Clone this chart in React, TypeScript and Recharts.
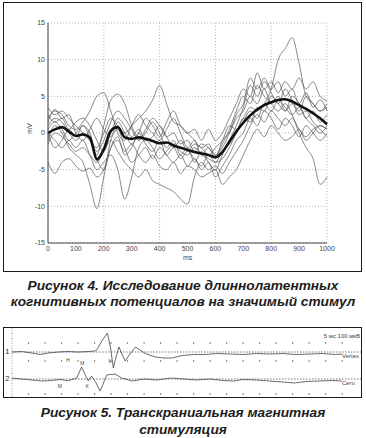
import { LineChart, ComposedChart, Line, XAxis, YAxis, CartesianGrid, ReferenceLine, ReferenceDot } from 'recharts';

const FONT = '"Liberation Sans", Arial, sans-serif';

// ---- Рисунок 4: ERP traces, ms / mV ----
const TIMES = [
    0, 25, 50, 75, 100, 125, 150, 175, 200, 225,
    250, 275, 300, 325, 350, 375, 400, 425, 450, 475,
    500, 525, 550, 575, 600, 625, 650, 675, 700, 725,
    750, 775, 800, 825, 850, 875, 900, 925, 950, 975,
    1000,
];
const X_TICKS = [0, 100, 200, 300, 400, 500, 600, 700, 800, 900, 1000];
const Y_TICKS = [-15, -10, -5, 0, 5, 10, 15];

const TRACE_1 = [2, 3, 2.5, 1, 0.5, 1.5, 3, 5, 5.5, 3, 0, -1, 1, 2.5, 1, 0, -1, 0.5, 2, 0, -2, -1, -3, -2, -3.5, -1, 0, 2, 3, 5, 4, 6, 4, 5, 3, 5, 4, 2, 3, 1.5, 2.5];
const TRACE_2 = [1, 2, 1.5, 0, -1, 0, -1, -3, 1, 4.5, 5.3, 4, 1, -1, 0, 1.5, 0, -2, -1, -3, -2, -4, -2.5, -4, -5, -3, -1, 1, 3.5, 6.5, 5, 7, 5.5, 4, 6, 4.5, 3, 5, 4, 3, 4];
const TRACE_3 = [-1, 1, 0, -2, -3, -4, -7, -10.3, -6, -1, 0.5, -2, -4, -3, -2, -3.5, -2, -3, -4, -3, -4.5, -3.5, -5, -4, -6, -4.5, -3, -1, 0, 2, 1, 3, 2, 0.5, 2, 1, -0.5, 1, 0, -1, 0];
const TRACE_4 = [3.5, 2.5, 3, 2, 1, 0, -1, -2, 0, 2, 1, 0, 1, 2, 3, 4.5, 6.5, 4, 1.5, 1, 0, -1, -2, -1.5, -3, -2, 0, 2.5, 4, 7.5, 6, 7.5, 6, 7, 5, 6, 4, 5.5, 3.5, 4.5, 3];
const TRACE_5 = [0, -1, -2, -1, -2, -1, -3, -5, -4, -3, -5, -9, -6, -2, -1, -2, -3.5, -2.5, -1.5, -2.5, -3, -2, -3, -3.5, -4, -2.5, -1.5, 0, 1.5, 3, 2, 4, 3, 4.5, 3.5, 2.5, 3.5, 2, 1, 0, 1];
const TRACE_6 = [-1.5, 0, -0.5, -1.5, -2.5, -2, -3, -4, -2.5, -1, -2.5, -4, -5, -6, -5, -6.5, -7, -7.5, -8, -9, -9.7, -6, -4, -5, -4.5, -5.5, -4, -2.5, -1, 1, 2.5, 1.5, 3, 2, 1, 2, 0.5, -0.5, 0.5, 1, 0.5];
const TRACE_7 = [-4, -5.5, -4, -3.5, -4.5, -5.2, -4.8, -6, -5, -2, -1, -2.5, -1.5, -3, -4, -3, -4.5, -5, -4, -5.5, -4.5, -5, -6, -5.5, -5, -7, -6, -5, -3, -1, 0.5, -0.5, 1, 0, -1, -0.5, 0.5, -1, 0, 1, 0.5];
const TRACE_8 = [2.5, 1.5, 2, 0.5, 1.5, 2, 1, -1, -2.5, 0, 2, 1, -0.5, 0.5, -1, -0.5, 1, -0.5, -2, -1, -2.5, -1.5, -2, -3, -2, -1, 1, 0.5, 2, 3.5, 3, 4, 6, 10, 11.5, 13, 9.5, 5, 4, 3, 3.5];
const TRACE_9 = [0.5, 1.5, 0.5, -1, 0, 1, -0.5, -2.5, -1, 1.5, 3, 2, 0.5, -1, 0.5, 2, 1, -0.5, 0, -1.5, -1, -2.5, -1.5, -2, -3, -1.5, 0.5, 3, 5, 4, 6.5, 5, 4, 3, 4, 2.5, 0, -2, -3.5, -7, -6];
const TRACE_10 = [1.5, 3.2, 2, 2.5, 0, -1, 0.5, 2, 0.5, -0.5, 1.5, 0, -1.5, 0, 2, 1, -0.5, 1.5, 3, 1, 0, 0.5, -1, 0.5, -1, 0, 2, 4, 6, 5, 8.2, 6, 7, 5.5, 7, 6, 7.5, 6, 7, 5, 4.4];
const TRACE_11 = [0, -2, -1, 0.5, -0.5, 1, 0, -3.5, -5, -2, -0.5, -3, -2, 0, -1.5, -2.5, -1, -3, -2, -3.5, -2.5, -3.5, -4.5, -3, -4, -3.5, -2, 0, 2, 1.5, 3.5, 3, 5, 4, 3, 4, 2.5, 3, 1.5, 0.5, -0.5];
const AVERAGE = [0, 0.5, 0.8, 0.2, -0.4, -0.2, -0.6, -3.6, -2.2, 0.3, 0.8, -0.6, -0.8, -0.6, -0.8, -1.1, -1.4, -1.3, -1.7, -2.0, -2.3, -2.6, -2.8, -3.0, -3.3, -2.6, -1.2, 0.2, 1.4, 2.4, 3.2, 3.8, 4.2, 4.5, 4.6, 4.3, 3.8, 3.3, 2.7, 2.0, 1.2];

const TRACES = [TRACE_1, TRACE_2, TRACE_3, TRACE_4, TRACE_5, TRACE_6, TRACE_7, TRACE_8, TRACE_9, TRACE_10, TRACE_11];

const erpRows = TIMES.map((t, i) => {
    const row: Record<string, number> = { t, avg: AVERAGE[i] };
    TRACES.forEach((tr, k) => { row[`s${k}`] = tr[i]; });
    return row;
});

// ---- Рисунок 5: motor evoked responses, ms / amplitude ----
const MS_TICKS = [5, 10, 15, 20, 25, 30, 35, 40, 45, 50, 55, 60, 65, 70, 75, 80, 85, 90, 95, 100, 105];
const DOT_TIMES = [5, 10, 15, 20, 25, 30, 35, 40, 45, 50, 55, 60, 65, 70, 75, 80, 85, 90, 95, 100];
const DOT_ROWS = [9, -9, -42];
const CHANNEL_OFFSETS = [0, -27];

const VERTEX_T = [0, 3, 6, 8.5, 11, 14, 17, 20, 23, 25, 25.7, 27, 28.9, 29.8, 30.7, 31.5, 32.4, 33.3, 34.3, 35.5, 37.4, 40.4, 43.4, 46, 48.5, 51.5, 55, 58.5, 62, 66, 70, 74, 78, 82, 86, 90, 94, 98, 100];
const VERTEX_A = [0, 0.5, -1, -2.5, -1, 0, 0.5, 0, 0.5, 1, 2, 10, 19, 5, -16, -5, 5, -2, -9, -3, 5, -1.5, -5, -6, -6, -3.5, -2.5, -2.5, -1.5, -2, -2.5, -1.5, -2, -1.5, -2.5, -2, -1.5, -2.5, -2];
const CERV_T = [0, 3, 6, 9, 12, 14.5, 17, 19.6, 21.1, 22.2, 23.1, 24.1, 25.3, 26.7, 27.7, 28.7, 31.2, 33.2, 36.4, 40, 44, 48, 52, 56, 60, 64, 67, 70, 74, 78, 82, 85.5, 89, 93, 97, 100];
const CERV_A = [1, 0, -1, -2, -1.5, -0.5, -1.7, 1, 12, 4, -2, 3, -3, -12, -4, 4, 5, 1, -2, 0, -1, 1, 0, -1, 0, -1.5, -2, -0.5, -1, -2, -3, -4, -2.5, -2, -1.5, -2];

const vertexRows = VERTEX_T.map((t, i) => ({ t, v: VERTEX_A[i] + CHANNEL_OFFSETS[0] }));
const cervRows = CERV_T.map((t, i) => ({ t, v: CERV_A[i] + CHANNEL_OFFSETS[1] }));

const MARKERS = [
    { t: 17, a: -8, text: 'Н' },
    { t: 29.7, a: -9, text: 'К' },
    { t: 21.3, a: -11, text: 'М' },
    { t: 22.8, a: -34, text: 'К' },
    { t: 14.5, a: -34, text: 'М' },
];

const TopTick = ({ x, payload }: any) => (
    <text x={x} y={5} textAnchor="middle" fontSize={5.5} fill="#555" fontFamily={FONT}>
        {payload.value}
    </text>
);

const captionStyle: React.CSSProperties = {
    position: 'absolute',
    left: 0,
    width: 366,
    textAlign: 'center',
    fontFamily: FONT,
    fontWeight: 700,
    fontStyle: 'italic',
    fontSize: 13.7,
    color: '#1c1c1c',
};

export default function App() {
    return (
        <div style={{ position: 'absolute', left: 0, top: 0, width: 366, height: 438, background: '#fff', fontFamily: FONT, overflow: 'hidden' }}>
            {/* Figure 4 */}
            <div style={{ position: 'absolute', left: 3, top: 2, width: 359, height: 270, border: '1.5px solid #1a1a1a', boxSizing: 'border-box' }} />
            <div style={{ position: 'absolute', left: 0, top: 0 }}>
                <LineChart width={366} height={272} data={erpRows} margin={{ top: 23, right: 39, bottom: 0, left: 10 }}>
                    <CartesianGrid stroke="#b5b5b5" strokeDasharray="1 2" />
                    <XAxis
                        dataKey="t"
                        type="number"
                        domain={[0, 1000]}
                        ticks={X_TICKS}
                        height={29}
                        stroke="#444"
                        axisLine={{ stroke: '#444' }}
                        tickLine={false}
                        tickSize={0}
                        tickMargin={3}
                        tick={{ fontSize: 7, fill: '#444', fontFamily: FONT }}
                    />
                    <YAxis
                        type="number"
                        domain={[-15, 15]}
                        ticks={Y_TICKS}
                        width={38}
                        stroke="#444"
                        axisLine={{ stroke: '#444' }}
                        tickLine={false}
                        tickSize={0}
                        tickMargin={3}
                        tick={{ fontSize: 7, fill: '#444', fontFamily: FONT }}
                    />
                    {TRACES.map((_, k) => (
                        <Line
                            key={k}
                            dataKey={`s${k}`}
                            type="monotone"
                            stroke="#555"
                            strokeWidth={0.7}
                            dot={false}
                            isAnimationActive={false}
                        />
                    ))}
                    <Line dataKey="avg" type="monotone" stroke="#111" strokeWidth={2.6} dot={false} isAnimationActive={false} />
                </LineChart>
            </div>
            <div style={{ position: 'absolute', left: 24, top: 125, fontSize: 7, color: '#444', transform: 'rotate(-90deg)' }}>mV</div>
            <div style={{ position: 'absolute', left: 183, top: 254, fontSize: 7, color: '#444' }}>ms</div>
            <div style={{ ...captionStyle, top: 278, lineHeight: '16px' }}>
                Рисунок 4. Исследование длиннолатентных<br />когнитивных потенциалов на значимый стимул
            </div>

            {/* Figure 5 */}
            <div style={{ position: 'absolute', left: 3, top: 327, width: 359, height: 71, border: '1.5px solid #1a1a1a', boxSizing: 'border-box' }} />
            <div style={{ position: 'absolute', left: 0, top: 328 }}>
                <ComposedChart width={366} height={69} margin={{ top: 0, right: 4, bottom: 0, left: 12 }}>
                    <XAxis
                        dataKey="t"
                        type="number"
                        domain={[0, 106]}
                        ticks={MS_TICKS}
                        orientation="top"
                        height={0}
                        axisLine={false}
                        tickLine={false}
                        tick={<TopTick />}
                        allowDataOverflow
                    />
                    <YAxis type="number" domain={[-45, 24]} hide allowDataOverflow />
                    <ReferenceLine x={0} stroke="#999" strokeDasharray="1 1.5" />
                    {CHANNEL_OFFSETS.map((y) => (
                        <ReferenceLine key={y} y={y} stroke="#555" strokeDasharray="1.5 1.5" strokeWidth={0.8} />
                    ))}
                    {DOT_ROWS.flatMap((y) =>
                        DOT_TIMES.map((t) => (
                            <ReferenceDot key={`${y}-${t}`} x={t} y={y} r={0.7} fill="#555" stroke="none" />
                        ))
                    )}
                    {MARKERS.map((m, i) => (
                        <ReferenceDot
                            key={`m${i}`}
                            x={m.t}
                            y={m.a}
                            r={0}
                            fill="none"
                            stroke="none"
                            label={{ value: m.text, fontSize: 5, fill: '#444', fontFamily: FONT }}
                        />
                    ))}
                    <Line data={vertexRows} dataKey="v" type="linear" stroke="#444" strokeWidth={0.8} dot={false} isAnimationActive={false} />
                    <Line data={cervRows} dataKey="v" type="linear" stroke="#444" strokeWidth={0.8} dot={false} isAnimationActive={false} />
                </ComposedChart>
            </div>
            <div style={{ position: 'absolute', left: 5, top: 347, fontSize: 8, color: '#333' }}>1</div>
            <div style={{ position: 'absolute', left: 5, top: 374, fontSize: 8, color: '#333' }}>2</div>
            <div style={{ position: 'absolute', left: 342, top: 353, fontSize: 6, color: '#444' }}>Vertex</div>
            <div style={{ position: 'absolute', left: 342, top: 380, fontSize: 6, color: '#444' }}>Cerv.</div>
            <div style={{ position: 'absolute', right: 6, top: 333, fontSize: 6, color: '#444' }}>5 мс 100 мкВ</div>
            <div style={{ ...captionStyle, top: 404, lineHeight: '17px' }}>
                Рисунок 5. Транскраниальная магнитная<br />стимуляция
            </div>
        </div>
    );
}
